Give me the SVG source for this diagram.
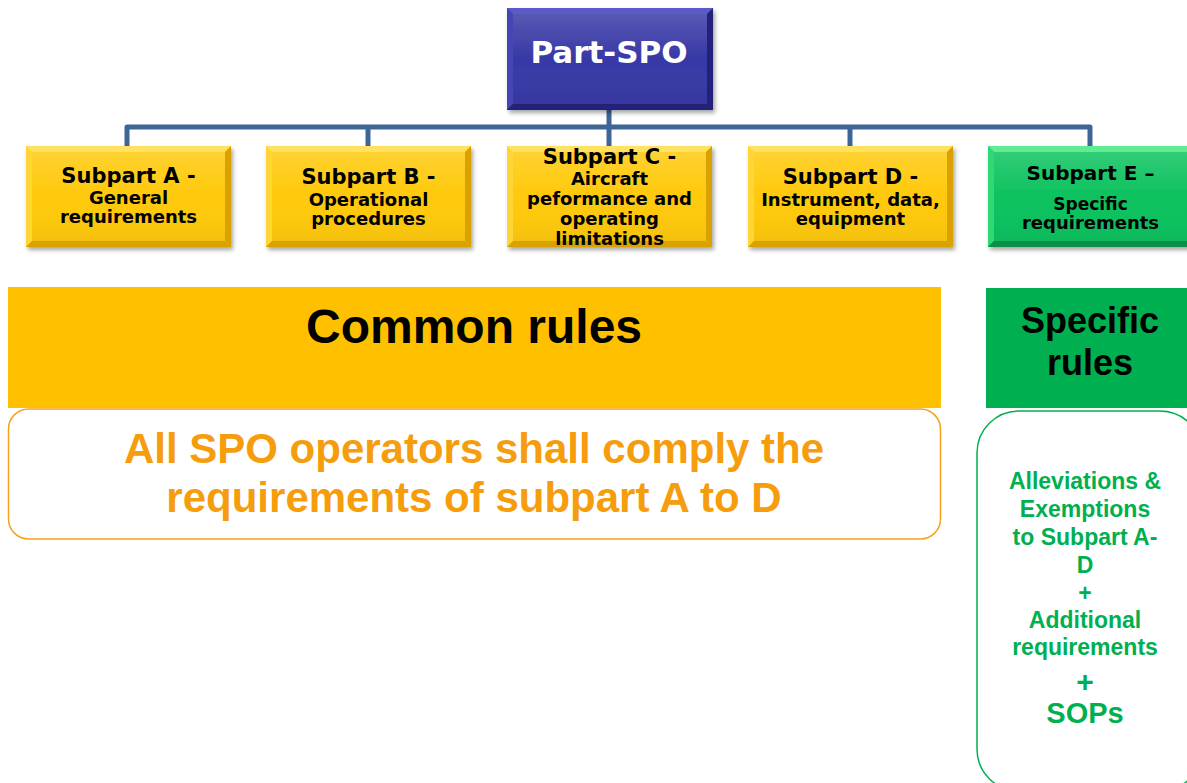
<svg xmlns="http://www.w3.org/2000/svg" xmlns:xlink="http://www.w3.org/1999/xlink" width="1187" height="783" viewBox="0 0 1187 783">
  <style>
    .yellow { --face:#ffc90a; --hi:#ffe25e; --side:#ffd634; --lo:#d9a200; }
    .green  { --face:#0cc25e; --hi:#5eec92; --side:#2fd873; --lo:#078f46; }
    .blue   { --face:#3838a6; --hi:#5a5ac8; --side:#4545b4; --lo:#23237a; }
    .face { fill: var(--face); }
    .hi   { fill: var(--hi); }
    .side { fill: var(--side); }
    .lo   { fill: var(--lo); }
    .lbl  { font-family: "DejaVu Sans", Verdana, sans-serif; font-weight: bold; text-anchor: middle; fill: #000; }
    .t1   { font-size: 21px; }
    .t2   { font-size: 18px; }
    .big  { font-family: "Liberation Sans", Arial, sans-serif; font-weight: bold; text-anchor: middle; }
    .wire { fill: none; stroke: #3e6597; stroke-width: 5; stroke-linejoin: round; }
    .grn  { fill: #00b050; }
    .org  { fill: #f59d0c; }
  </style>
  <defs>
    <filter id="shadow" x="-10%" y="-10%" width="125%" height="130%">
      <feDropShadow dx="2" dy="3" stdDeviation="2" flood-color="#000" flood-opacity="0.35"/>
    </filter>
    <linearGradient id="sheen" x1="0" y1="0" x2="0" y2="1">
      <stop offset="0" stop-color="#fff" stop-opacity="0.18"/>
      <stop offset="0.5" stop-color="#fff" stop-opacity="0"/>
      <stop offset="1" stop-color="#000" stop-opacity="0.06"/>
    </linearGradient>
    <!-- bevelled tile, 205 x 101 -->
    <g id="tile">
      <rect class="face" x="0" y="0" width="205" height="101"/>
      <rect x="0" y="0" width="205" height="101" fill="url(#sheen)"/>
      <polygon class="hi" points="0,0 205,0 199,6 6,6"/>
      <polygon class="side" points="0,0 6,6 6,95 0,101"/>
      <polygon class="lo" points="205,0 205,101 199,95 199,6"/>
      <polygon class="lo" points="0,101 6,95 199,95 205,101"/>
    </g>
  </defs>

  <!-- connectors -->
  <g id="connectors">
    <path class="wire" d="M609,110 V127"/>
    <path class="wire" d="M127,147 V127 H1090 V147"/>
    <path class="wire" d="M368,127 V147"/>
    <path class="wire" d="M609,127 V147"/>
    <path class="wire" d="M850,127 V147"/>
  </g>

  <!-- top node -->
  <g id="part-spo" class="blue">
    <use xlink:href="#tile" href="#tile" transform="translate(507,8) scale(1.005,1.01)" filter="url(#shadow)"/>
    <text class="lbl" x="609" y="63" font-size="31" style="fill:#fff">Part-SPO</text>
  </g>

  <g id="subpart-a" class="yellow">
    <use xlink:href="#tile" href="#tile" x="26" y="146" filter="url(#shadow)"/>
    <text class="lbl t1" x="128.5" y="183">Subpart A -</text>
    <text class="lbl t2" x="128.5" y="204">General</text>
    <text class="lbl t2" x="128.5" y="223">requirements</text>
  </g>

  <g id="subpart-b" class="yellow">
    <use xlink:href="#tile" href="#tile" x="266" y="146" filter="url(#shadow)"/>
    <text class="lbl t1" x="368.5" y="184">Subpart B -</text>
    <text class="lbl t2" x="368.5" y="206">Operational</text>
    <text class="lbl t2" x="368.5" y="225">procedures</text>
  </g>

  <g id="subpart-c" class="yellow">
    <use xlink:href="#tile" href="#tile" x="507" y="146" filter="url(#shadow)"/>
    <text class="lbl t1" x="609.5" y="164">Subpart C -</text>
    <text class="lbl t2" x="609.5" y="185">Aircraft</text>
    <text class="lbl t2" x="609.5" y="205">peformance and</text>
    <text class="lbl t2" x="609.5" y="225">operating</text>
    <text class="lbl t2" x="609.5" y="245">limitations</text>
  </g>

  <g id="subpart-d" class="yellow">
    <use xlink:href="#tile" href="#tile" x="748" y="146" filter="url(#shadow)"/>
    <text class="lbl t1" x="850.5" y="184">Subpart D -</text>
    <text class="lbl t2" x="850.5" y="206">Instrument, data,</text>
    <text class="lbl t2" x="850.5" y="225">equipment</text>
  </g>

  <g id="subpart-e" class="green">
    <use xlink:href="#tile" href="#tile" x="988" y="146" filter="url(#shadow)"/>
    <text class="lbl" x="1090.5" y="180" font-size="20">Subpart E –</text>
    <text class="lbl" x="1090.5" y="210" font-size="17">Specific</text>
    <text class="lbl" x="1090.5" y="229" font-size="18">requirements</text>
  </g>

  <!-- common rules band -->
  <g id="common-rules">
    <rect x="8" y="287" width="933" height="121" fill="#ffc000"/>
    <text class="big" x="474" y="343" font-size="48" fill="#000">Common rules</text>
  </g>

  <g id="common-detail">
    <rect x="8.5" y="409" width="932" height="130" rx="20" ry="20" fill="#fff" stroke="#f7a11a" stroke-width="1.5"/>
    <text class="big org" x="474" y="463" font-size="42">All SPO operators shall comply the</text>
    <text class="big org" x="474" y="512" font-size="42">requirements of subpart A to D</text>
  </g>

  <!-- specific rules column -->
  <g id="specific-rules">
    <rect x="986" y="288" width="201" height="120" fill="#00b050"/>
    <text class="big" x="1090" y="333" font-size="36" fill="#000">Specific</text>
    <text class="big" x="1090" y="375" font-size="36" fill="#000">rules</text>
  </g>

  <g id="specific-detail">
    <rect x="977" y="411" width="225" height="380" rx="42" ry="42" fill="#fff" stroke="#00b050" stroke-width="1.5"/>
    <g class="big grn" font-size="23">
      <text x="1085" y="489">Alleviations &amp;</text>
      <text x="1085" y="517">Exemptions</text>
      <text x="1085" y="545">to Subpart A-</text>
      <text x="1085" y="573">D</text>
      <text x="1085" y="601">+</text>
      <text x="1085" y="628">Additional</text>
      <text x="1085" y="655">requirements</text>
      <text x="1085" y="692" font-size="30">+</text>
      <text x="1085" y="723" font-size="29">SOPs</text>
    </g>
  </g>
</svg>
